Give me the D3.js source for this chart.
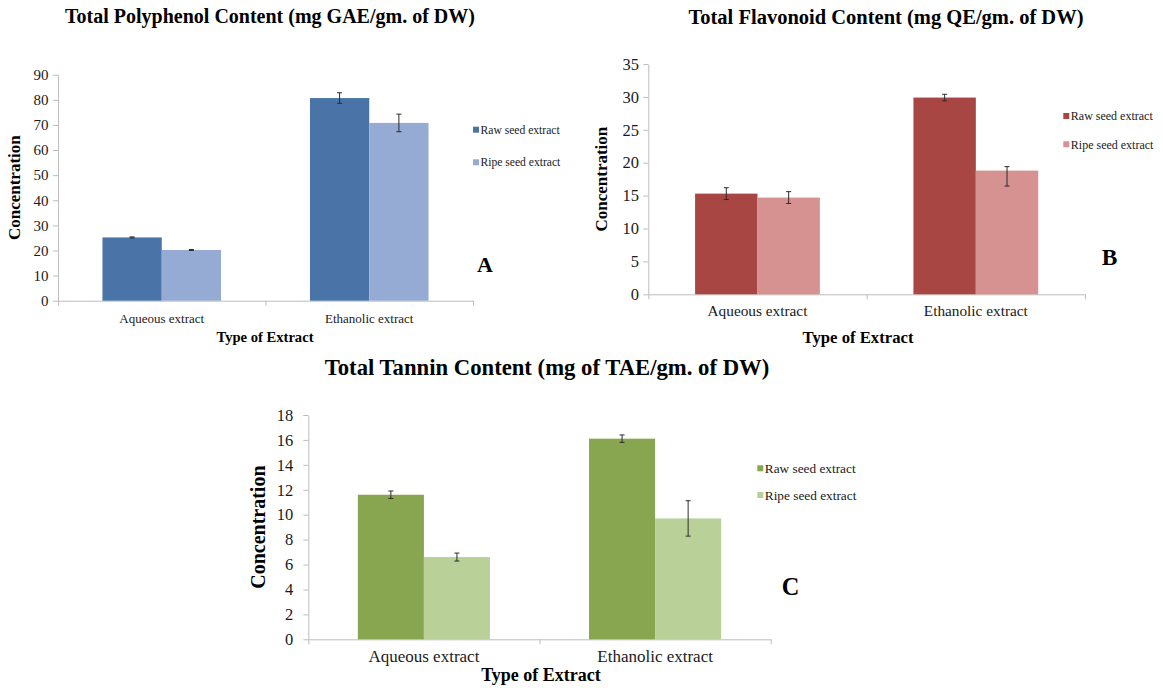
<!DOCTYPE html>
<html>
<head>
<meta charset="utf-8">
<script src="https://cdn.jsdelivr.net/npm/d3@7"></script>
<style>
  body { margin: 0; background: #fff; }
  svg { display: block; font-family: "Liberation Serif", "Times New Roman", serif; }
  .axis path, .axis line { stroke: #bdbdbd; }
  .axis text { fill: #1a1a1a; font-family: "Liberation Serif", "Times New Roman", serif; }
</style>
</head>
<body>
<div id="chart"></div>
<script>
// categories and legend entries shared by the three panels
const categories = ['Aqueous extract', 'Ethanolic extract'];
const seriesNames = ['Raw seed extract', 'Ripe seed extract'];

// A - total polyphenol (mg GAE/gm of DW)
const polyRaw = [25.2, 80.7];
const polyRipe = [20.2, 70.8];
const polyRawErrUp = [0.2, 2.1], polyRawErrDown = [0.2, 2.1];
const polyRipeErrUp = [0.2, 3.5], polyRipeErrDown = [0.2, 3.5];
const polyTicks = [0, 10, 20, 30, 40, 50, 60, 70, 80, 90];

// B - total flavonoid (mg QE/gm of DW)
const flavRaw = [15.3, 29.9];
const flavRipe = [14.7, 18.8];
const flavRawErrUp = [0.9, 0.5], flavRawErrDown = [0.9, 0.5];
const flavRipeErrUp = [0.9, 0.6], flavRipeErrDown = [0.9, 2.35];
const flavTicks = [0, 5, 10, 15, 20, 25, 30, 35];

// C - total tannin (mg of TAE/gm of DW)
const tannRaw = [11.6, 16.1];
const tannRipe = [6.6, 9.7];
const tannRawErrUp = [0.3, 0.3], tannRawErrDown = [0.3, 0.3];
const tannRipeErrUp = [0.32, 1.42], tannRipeErrDown = [0.32, 1.42];
const tannTicks = [0, 2, 4, 6, 8, 10, 12, 14, 16, 18];

const W = 1163, H = 688;

const panels = [
  {
    letter: 'A', title: 'Total Polyphenol Content (mg GAE/gm. of DW)',
    series: [polyRaw, polyRipe],
    errUp: [polyRawErrUp, polyRipeErrUp], errDown: [polyRawErrDown, polyRipeErrDown],
    ticks: polyTicks, colors: ['#4a74a8', '#95abd3'],
    x0: 58, x1: 473, yTop: 74.7, yBot: 300.7,
    titleX: 270, titleY: 23, titleSize: 20,
    tickFont: 15, tickPad: 4.5, catFont: 13, catPad: 13,
    xTitleX: 265, xTitleY: 342, xTitleSize: 14.6,
    yTitleX: 20, yTitleSize: 17,
    legX: 473, legY: [129.7, 162.3], legFont: 11.6,
    letterX: 485, letterY: 272, letterSize: 22
  },
  {
    letter: 'B', title: 'Total Flavonoid Content (mg QE/gm. of DW)',
    series: [flavRaw, flavRipe],
    errUp: [flavRawErrUp, flavRipeErrUp], errDown: [flavRawErrDown, flavRipeErrDown],
    ticks: flavTicks, colors: ['#a84644', '#d59291'],
    x0: 648.3, x1: 1085, yTop: 64, yBot: 294.3,
    titleX: 886, titleY: 24, titleSize: 20.5,
    tickFont: 16.5, tickPad: 4.3, catFont: 15.3, catPad: 10.8,
    xTitleX: 858, xTitleY: 343, xTitleSize: 16.7,
    yTitleX: 607, yTitleSize: 17,
    legX: 1063.3, legY: [116, 144.3], legFont: 12,
    letterX: 1109.5, letterY: 265, letterSize: 23.4
  },
  {
    letter: 'C', title: 'Total Tannin Content (mg of TAE/gm. of DW)',
    series: [tannRaw, tannRipe],
    errUp: [tannRawErrUp, tannRipeErrUp], errDown: [tannRawErrDown, tannRipeErrDown],
    ticks: tannTicks, colors: ['#87a64f', '#b9d198'],
    x0: 308.3, x1: 770.7, yTop: 415, yBot: 639.3,
    titleX: 547, titleY: 375, titleSize: 22.7,
    tickFont: 16.5, tickPad: 10, catFont: 17, catPad: 10.4,
    xTitleX: 541, xTitleY: 681, xTitleSize: 18,
    yTitleX: 265, yTitleSize: 20,
    legX: 757.3, legY: [468.3, 495], legFont: 13.3,
    letterX: 790.5, letterY: 595, letterSize: 24.4
  }
];

const svg = d3.select('#chart').append('svg')
  .attr('width', W)
  .attr('height', H);

svg.append('rect').attr('width', W).attr('height', H).attr('fill', '#fff');

function drawPanel(p) {
  const g = svg.append('g').attr('class', 'panel');
  const yMax = p.ticks[p.ticks.length - 1];

  const y = d3.scaleLinear().domain([0, yMax]).range([p.yBot, p.yTop]);
  // Excel style: gap width 150% -> group takes 2/3.5 of the category
  const x = d3.scaleBand().domain(categories).range([p.x0, p.x1])
    .paddingInner(1.5 / 3.5).paddingOuter(0.75 / 3.5);
  const xs = d3.scaleBand().domain(d3.range(seriesNames.length)).range([0, x.bandwidth()]);
  const xEdges = d3.scaleLinear().domain([0, categories.length]).range([p.x0, p.x1]);

  // y axis
  const yAxis = g.append('g')
    .attr('class', 'axis')
    .attr('transform', 'translate(' + p.x0 + ',0)')
    .call(d3.axisLeft(y).tickValues(p.ticks).tickSize(5).tickPadding(p.tickPad).tickSizeOuter(0));
  yAxis.attr('font-size', p.tickFont);

  // x axis line with ticks on category boundaries
  g.append('g')
    .attr('class', 'axis')
    .attr('transform', 'translate(0,' + p.yBot + ')')
    .call(d3.axisBottom(xEdges).tickValues(d3.range(categories.length + 1)).tickFormat('').tickSize(5).tickSizeOuter(0));

  // category labels
  const xLab = g.append('g')
    .attr('class', 'axis')
    .attr('transform', 'translate(0,' + p.yBot + ')')
    .call(d3.axisBottom(x).tickSize(0).tickPadding(p.catPad));
  xLab.select('.domain').remove();
  xLab.attr('font-size', p.catFont);

  // bars
  const groups = g.selectAll('g.cat')
    .data(categories)
    .join('g')
    .attr('class', 'cat')
    .attr('transform', d => 'translate(' + x(d) + ',0)');

  groups.each(function(cat, ci) {
    const cg = d3.select(this);
    p.series.forEach((vals, si) => {
      cg.append('rect')
        .attr('x', xs(si))
        .attr('y', y(vals[ci]))
        .attr('width', xs.bandwidth())
        .attr('height', y(0) - y(vals[ci]))
        .attr('fill', p.colors[si]);
    });
    // error bars on top
    p.series.forEach((vals, si) => {
      const cx = xs(si) + xs.bandwidth() / 2;
      const hi = y(vals[ci] + p.errUp[si][ci]);
      const lo = y(vals[ci] - p.errDown[si][ci]);
      const eb = cg.append('g').attr('stroke', '#2b2b2b').attr('stroke-width', 1);
      eb.append('line').attr('x1', cx).attr('x2', cx).attr('y1', hi).attr('y2', lo);
      eb.append('line').attr('x1', cx - 2.5).attr('x2', cx + 2.5).attr('y1', hi).attr('y2', hi);
      eb.append('line').attr('x1', cx - 2.5).attr('x2', cx + 2.5).attr('y1', lo).attr('y2', lo);
    });
  });

  // titles
  g.append('text')
    .attr('x', p.titleX).attr('y', p.titleY)
    .attr('text-anchor', 'middle')
    .attr('font-weight', 'bold')
    .attr('font-size', p.titleSize)
    .text(p.title);

  g.append('text')
    .attr('x', p.xTitleX).attr('y', p.xTitleY)
    .attr('text-anchor', 'middle')
    .attr('font-weight', 'bold')
    .attr('font-size', p.xTitleSize)
    .text('Type of Extract');

  const yMid = (p.yTop + p.yBot) / 2;
  g.append('text')
    .attr('transform', 'translate(' + p.yTitleX + ',' + yMid + ') rotate(-90)')
    .attr('text-anchor', 'middle')
    .attr('font-weight', 'bold')
    .attr('font-size', p.yTitleSize)
    .text('Concentration');

  // legend
  const leg = g.selectAll('g.leg')
    .data(seriesNames)
    .join('g')
    .attr('class', 'leg')
    .attr('transform', (d, i) => 'translate(' + p.legX + ',' + p.legY[i] + ')');
  leg.append('rect')
    .attr('x', 0).attr('y', -3)
    .attr('width', 6).attr('height', 6)
    .attr('fill', (d, i) => p.colors[i]);
  leg.append('text')
    .attr('x', 7.5).attr('y', 0)
    .attr('dy', '0.35em')
    .attr('font-size', p.legFont)
    .attr('fill', '#1a1a1a')
    .text(d => d);

  // panel letter
  g.append('text')
    .attr('x', p.letterX).attr('y', p.letterY)
    .attr('text-anchor', 'middle')
    .attr('font-weight', 'bold')
    .attr('font-size', p.letterSize)
    .text(p.letter);
}

panels.forEach(drawPanel);
</script>
</body>
</html>
